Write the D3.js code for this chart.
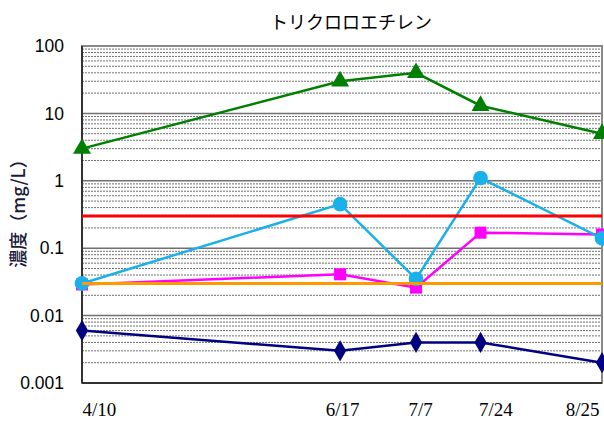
<!DOCTYPE html>
<html>
<head>
<meta charset="utf-8">
<script src="https://cdn.jsdelivr.net/npm/d3@7"></script>
<style>
  html, body { margin: 0; padding: 0; background: #fff; }
  svg { display: block; }
</style>
</head>
<body>
<svg id="chart" width="604" height="429"></svg>
<script>
// Sampling dates (month/day) and measured concentrations (mg/L)
const dates = ["2000-04-10", "2000-06-17", "2000-07-07", "2000-07-24", "2000-08-25"];
const tickLabels = ["4/10", "6/17", "7/7", "7/24", "8/25"];
const greenValues = [3.0, 30, 40, 13, 5.0];
const blueValues = [0.03, 0.45, 0.035, 1.1, 0.14];
const magentaValues = [0.029, 0.041, 0.026, 0.17, 0.16];
const navyValues = [0.006, 0.003, 0.004, 0.004, 0.002];
const redLimit = 0.3;
const orangeLimit = 0.03;
const yTicks = [0.001, 0.01, 0.1, 1, 10, 100];
const yTickLabels = ["0.001", "0.01", "0.1", "1", "10", "100"];

const svg = d3.select("#chart");
const plot = { left: 82, right: 602, top: 46, bottom: 383 };

const parse = d3.timeParse("%Y-%m-%d");
const dateObjs = dates.map(parse);

const x = d3.scaleTime()
  .domain([dateObjs[0], dateObjs[dateObjs.length - 1]])
  .range([plot.left, plot.right]);

const y = d3.scaleLog()
  .domain([0.001, 100])
  .range([plot.bottom, plot.top]);

// Title
svg.append("text")
  .attr("x", 351).attr("y", 29)
  .attr("text-anchor", "middle")
  .attr("font-family", "'Noto Sans CJK JP', sans-serif")
  .attr("font-size", 18)
  .attr("fill", "#000")
  .text("トリクロロエチレン");

// Y axis title
svg.append("text")
  .attr("transform", "translate(25,209) rotate(-90)")
  .attr("text-anchor", "middle")
  .attr("font-family", "'Noto Sans CJK JP', sans-serif")
  .attr("font-size", 18)
  .attr("font-weight", 500)
  .attr("fill", "#1a1a3a")
  .text("濃度（mg/L）");

// Minor gridlines (2..9 in each decade)
const minor = [];
for (let d = -3; d < 2; d++) {
  for (let m = 2; m <= 9; m++) minor.push(m * Math.pow(10, d));
}
svg.append("g").selectAll("line").data(minor).join("line")
  .attr("x1", plot.left).attr("x2", plot.right)
  .attr("y1", d => y(d)).attr("y2", d => y(d))
  .attr("stroke", "#707070")
  .attr("stroke-width", 1)
  .attr("stroke-dasharray", "2,1");

// Major gridlines at each decade
svg.append("g").selectAll("line").data(yTicks).join("line")
  .attr("x1", plot.left).attr("x2", plot.right)
  .attr("y1", d => y(d)).attr("y2", d => y(d))
  .attr("stroke", "#707070")
  .attr("stroke-width", 1.5);

// Plot frame
svg.append("rect")
  .attr("x", plot.left).attr("y", plot.top)
  .attr("width", plot.right - plot.left)
  .attr("height", plot.bottom - plot.top)
  .attr("fill", "none")
  .attr("stroke", "#888")
  .attr("stroke-width", 2);
svg.append("line")
  .attr("x1", plot.left).attr("x2", plot.left)
  .attr("y1", plot.top).attr("y2", plot.bottom)
  .attr("stroke", "#333").attr("stroke-width", 2);
svg.append("line")
  .attr("x1", plot.left).attr("x2", plot.right)
  .attr("y1", plot.bottom).attr("y2", plot.bottom)
  .attr("stroke", "#333").attr("stroke-width", 2);

// Y axis labels
const yAxis = d3.axisLeft(y)
  .tickValues(yTicks)
  .tickFormat((d, i) => yTickLabels[i])
  .tickSize(0)
  .tickPadding(18);
const yg = svg.append("g").attr("transform", `translate(${plot.left},0)`).call(yAxis);
yg.select(".domain").remove();
yg.selectAll("text")
  .attr("font-family", "'Liberation Sans', Arial, sans-serif")
  .attr("font-size", 17.5)
  .attr("fill", "#000");

// X axis labels
const anchors = ["start", "middle", "start", "start", "end"];
const shifts = [0, 2, -8, -2, -3];
const xAxis = d3.axisBottom(x)
  .tickValues(dateObjs)
  .tickFormat((d, i) => tickLabels[i])
  .tickSize(0)
  .tickPadding(20);
const xg = svg.append("g").attr("transform", `translate(0,${plot.bottom})`).call(xAxis);
xg.select(".domain").remove();
xg.selectAll("text")
  .attr("font-family", "'Liberation Serif', 'Times New Roman', serif")
  .attr("font-size", 19)
  .attr("fill", "#000")
  .attr("text-anchor", (d, i) => anchors[i])
  .attr("dx", (d, i) => shifts[i]);

// Series
const line = d3.line().x(d => x(d.date)).y(d => y(d.value));
function series(values, color, symbolType, size, width) {
  const pts = values.map((v, i) => ({ date: dateObjs[i], value: v }));
  const g = svg.append("g");
  g.append("path")
    .datum(pts)
    .attr("d", line)
    .attr("fill", "none")
    .attr("stroke", color)
    .attr("stroke-width", width);
  g.selectAll("path.m").data(pts).join("path")
    .attr("class", "m")
    .attr("transform", d => `translate(${x(d.date)},${y(d.value)})`)
    .attr("d", d3.symbol().type(symbolType).size(size))
    .attr("fill", color);
}

series(navyValues, "#000080", d3.symbolDiamond, 130, 2.5);
series(magentaValues, "#ff00ff", d3.symbolSquare, 144, 2.5);
series(blueValues, "#1ab0ea", d3.symbolCircle, 170, 2.5);
series(greenValues, "#008000", d3.symbolTriangle, 140, 2.5);

// Reference levels
svg.append("line")
  .attr("x1", plot.left).attr("x2", plot.right)
  .attr("y1", y(redLimit)).attr("y2", y(redLimit))
  .attr("stroke", "#ff0000").attr("stroke-width", 3);
svg.append("line")
  .attr("x1", plot.left).attr("x2", plot.right)
  .attr("y1", y(orangeLimit)).attr("y2", y(orangeLimit))
  .attr("stroke", "#ff9900").attr("stroke-width", 3);
</script>
</body>
</html>
